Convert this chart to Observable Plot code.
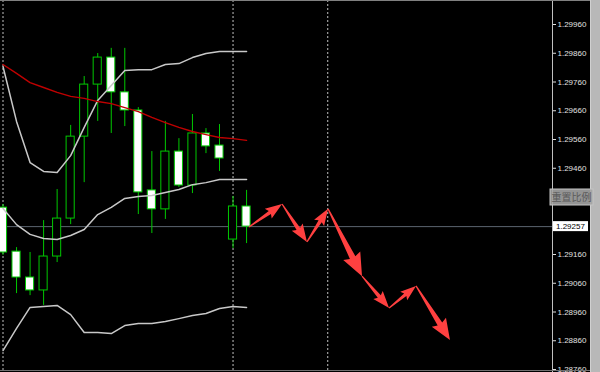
<!DOCTYPE html>
<html><head><meta charset="utf-8">
<script src="https://cdn.jsdelivr.net/npm/d3@7"></script>
<script src="https://cdn.jsdelivr.net/npm/@observablehq/plot@0.6"></script>
<style>html,body{margin:0;padding:0;background:#000;overflow:hidden}</style>
</head><body><div id="chart"></div>
<script>
// ---- data ----
const barIndex = [0,1,2,3,4,5,6,7,8,9,10,11,12,13,14,15,16,17,18];
const opens  = [1.29323,1.29170,1.29080,1.29035,1.29153,1.29285,1.29570,1.29751,1.29845,1.29724,1.29661,1.29383,1.29317,1.29518,1.29400,1.29581,1.29539,1.29212,1.29327];
const highs  = [1.29334,1.29184,1.29167,1.29278,1.29386,1.29609,1.29779,1.29859,1.29877,1.29877,1.29671,1.29518,1.29623,1.29563,1.29647,1.29598,1.29612,1.29362,1.29383];
const lows   = [1.29157,1.29024,1.29017,1.28983,1.29132,1.29264,1.29410,1.29623,1.29581,1.29605,1.29299,1.29233,1.29282,1.29393,1.29372,1.29511,1.29449,1.29181,1.29198];
const closes = [1.29167,1.29080,1.29035,1.29153,1.29285,1.29570,1.29751,1.29845,1.29724,1.29661,1.29376,1.29317,1.29518,1.29400,1.29581,1.29536,1.29494,1.29327,1.29257];
const bbUpper  = [1.29814,1.29623,1.29480,1.29449,1.29445,1.29504,1.29602,1.29696,1.29748,1.29800,1.29803,1.29803,1.29821,1.29824,1.29845,1.29859,1.29866,1.29866,1.29866];
const bbMiddle = [1.29320,1.29264,1.29230,1.29216,1.29212,1.29226,1.29247,1.29299,1.29324,1.29355,1.29362,1.29365,1.29376,1.29386,1.29403,1.29410,1.29421,1.29421,1.29421];
const bbLower  = [1.28826,1.28903,1.28976,1.28979,1.28983,1.28951,1.28889,1.28889,1.28885,1.28913,1.28920,1.28920,1.28927,1.28937,1.28948,1.28955,1.28972,1.28979,1.28976];
const maRed    = [1.29821,1.29790,1.29758,1.29741,1.29724,1.29710,1.29703,1.29692,1.29685,1.29671,1.29657,1.29637,1.29619,1.29602,1.29588,1.29577,1.29567,1.29563,1.29557];
const arrowIdx   = [18.22,20.66,22.50,24.06,26.57,28.57,30.56,33.07];
const arrowPrice = [1.29254,1.29334,1.29202,1.29317,1.29083,1.28972,1.29049,1.28861];
const separators = [0,17,24];
const currentPrice = 1.29257;
const yTicks = [1.29960,1.29860,1.29760,1.29660,1.29560,1.29460,1.29160,1.29060,1.28960,1.28860,1.28760];
const resetLabel = "重置比例";

// ---- scales ----
const xDomain = [-0.185, 40.61];
const yDomain = [1.287496, 1.300435];

const candles = barIndex.map((i,k)=>({i, open:opens[k], high:highs[k], low:lows[k], close:closes[k]}));
const bands = barIndex.map((i,k)=>({i, up:bbUpper[k], mid:bbMiddle[k], lo:bbLower[k], ma:maRed[k]}));
const green = "#00c800";

function arrowsMark(index, scales) {
  const g = d3.create("svg:g");
  for (let k = 0; k < arrowIdx.length - 1; k++) {
    const sx = scales.x(arrowIdx[k]), sy = scales.y(arrowPrice[k]);
    const ex = scales.x(arrowIdx[k+1]), ey = scales.y(arrowPrice[k+1]);
    const dx = ex - sx, dy = ey - sy, len = Math.hypot(dx, dy);
    const ux = dx/len, uy = dy/len, nx = -uy, ny = ux;
    const head = 8 + 0.17*len, hw = 2 + 0.1*len, sw0 = 0.6, sw1 = hw*0.32;
    const bx = ex - ux*head, by = ey - uy*head;
    const pts = [[sx+nx*sw0, sy+ny*sw0],[bx+nx*sw1, by+ny*sw1],[bx+nx*hw-ux*2, by+ny*hw-uy*2],[ex,ey],
                 [bx-nx*hw-ux*2, by-ny*hw-uy*2],[bx-nx*sw1, by-ny*sw1],[sx-nx*sw0, sy-ny*sw0]];
    g.append("polygon").attr("points", pts.map(p=>p.join(",")).join(" ")).style("fill","#ff4040");
  }
  return g.node();
}

function chromeMark(index, scales, values, dims) {
  const g = d3.create("svg:g");
  const W = dims.width, H = dims.height, xr = W - dims.marginRight;
  g.append("line").attr("x1",0).attr("x2",W-9).attr("y1",0.5).attr("y2",0.5).style("stroke","#808080");
  g.append("line").attr("x1",0).attr("x2",W-9).attr("y1",H-1.5).attr("y2",H-1.5).style("stroke","#707070");
  g.append("rect").attr("x",W-9).attr("y",0).attr("width",9).attr("height",H).style("fill","#b8b8b8");
  g.append("line").attr("x1",W-9.5).attr("x2",W-9.5).attr("y1",0).attr("y2",H).style("stroke","#d0d0d0");
  // current price label
  const py = scales.y(currentPrice);
  g.append("rect").attr("x",xr+1).attr("y",py-5).attr("width",35).attr("height",10).style("fill","#ffffff");
  g.append("text").attr("x",xr+4).attr("y",py).attr("dy","0.35em")
    .style("fill","#000000").style("text-anchor","start")
    .style("font-family","Liberation Sans, Arial, sans-serif").style("font-size","8px").text(currentPrice.toFixed(5));
  // reset-scale button
  g.append("rect").attr("x",xr-2).attr("y",189).attr("width",43).attr("height",16)
    .style("fill","#a4a4a4").style("fill-opacity",0.9).style("stroke","#c4c4c4");
  g.append("text").attr("x",xr+19.5).attr("y",197).attr("dy","0.36em")
    .style("text-anchor","middle").style("fill","#5a5a5a")
    .style("font-family","Noto Sans CJK SC, sans-serif").style("font-size","10px").text(resetLabel);
  return g.node();
}

const chart = Plot.plot({
  width: 600, height: 372,
  marginLeft: 0, marginRight: 48, marginTop: 0, marginBottom: 0,
  style: {background: "#000", fontFamily: "Liberation Sans, Arial, sans-serif", fontSize: "8px", color: "#e0e0e0"},
  x: {domain: xDomain, axis: null},
  y: {domain: yDomain, axis: null},
  marks: [
    Plot.ruleX(separators, {x: d=>d, stroke: "#c0c0c0", strokeDasharray: "2,2"}),
    Plot.ruleY([currentPrice], {stroke: "#5c6570"}),
    Plot.ruleX(candles, {x: "i", y1: "low", y2: "high", stroke: green}),
    Plot.rect(candles, {x1: d=>d.i-0.3, x2: d=>d.i+0.3, y1: "open", y2: "close",
      fill: d => d.close < d.open ? "#ffffff" : "#000000", stroke: green}),
    Plot.line(bands, {x: "i", y: "up", stroke: "#c8c8c8"}),
    Plot.line(bands, {x: "i", y: "mid", stroke: "#c8c8c8"}),
    Plot.line(bands, {x: "i", y: "lo", stroke: "#c8c8c8"}),
    Plot.line(bands, {x: "i", y: "ma", stroke: "#c00000", strokeWidth: 1.4}),
    arrowsMark,
    Plot.ruleX([xDomain[1]], {stroke: "#c0c0c0"}),
    Plot.axisY({anchor: "right", ticks: yTicks, tickSize: 3, tickPadding: 2,
      tickFormat: d => d.toFixed(5), color: "#e0e0e0", fontSize: 8}),
    chromeMark
  ]
});
document.getElementById("chart").appendChild(chart);
</script>
</body></html>
